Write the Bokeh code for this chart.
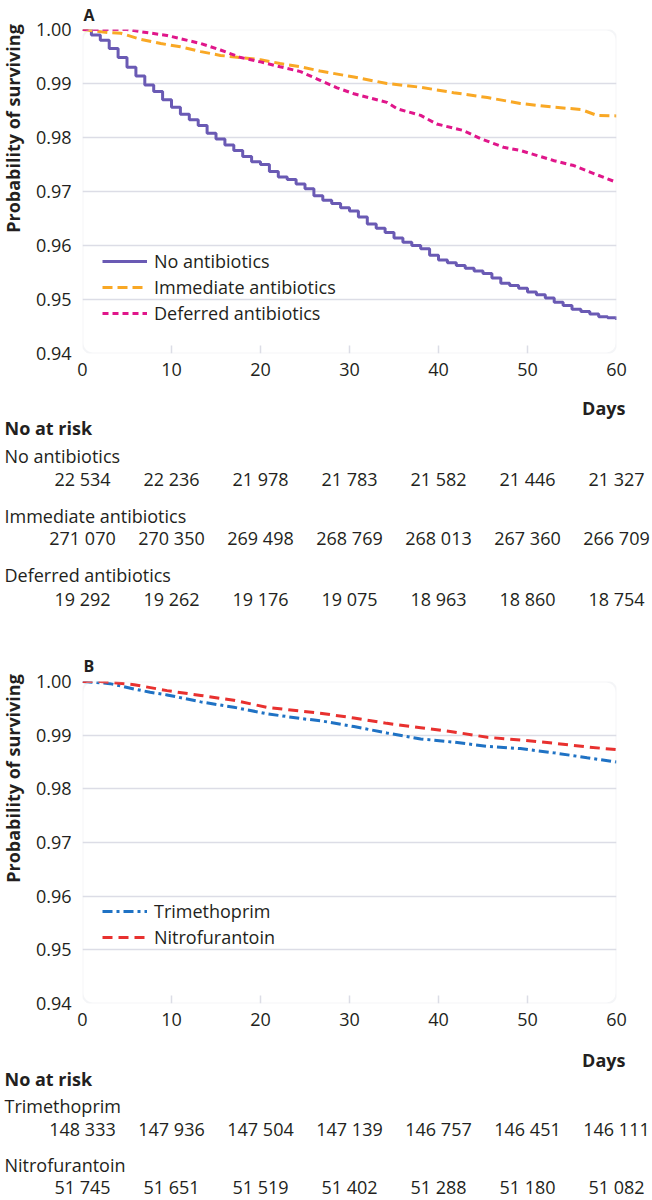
from math import pi
from bokeh.plotting import figure
from bokeh.models import (Range1d, FixedTicker, BoxAnnotation, Legend, Title,
                          LegendItem, PrintfTickFormatter)
from bokeh.layouts import column, row
from bokeh.embed import file_html
from bokeh.resources import INLINE
from bokeh.core.properties import value

FONT = "Open Sans"
INK = "#231f20"
GRID = "#dcdde6"
PURPLE = "#6a5ab4"
ORANGE = "#f9a825"
MAGENTA = "#e0168a"
BLUE = "#1f72c4"
RED = "#e8312f"

# ---------------- data ----------------
# Panel A
no_abx_days = list(range(61))
no_abx_surv = [1.0000, 0.9990, 0.9980, 0.9965, 0.9948, 0.9930, 0.9914, 0.9897, 0.9885, 0.9870,
               0.9856, 0.9843, 0.9833, 0.9822, 0.9808, 0.9797, 0.9786, 0.9776, 0.9765, 0.9755,
               0.9750, 0.9737, 0.9727, 0.9722, 0.9714, 0.9705, 0.9692, 0.9684, 0.9678, 0.9670,
               0.9664, 0.9653, 0.9640, 0.9632, 0.9624, 0.9614, 0.9606, 0.9600, 0.9594, 0.9582,
               0.9573, 0.9568, 0.9563, 0.9558, 0.9553, 0.9548, 0.9540, 0.9530, 0.9526, 0.9521,
               0.9514, 0.9509, 0.9503, 0.9495, 0.9489, 0.9482, 0.9478, 0.9473, 0.9468, 0.9466,
               0.9462]
imm_days = [0, 3.1, 4.3, 6.5, 8.8, 11.0, 13.3, 15.5, 17.8, 20.0, 22.2, 24.5, 26.7, 30.5,
            34.2, 38.0, 41.7, 45.5, 49.2, 53.0, 56.0, 57.8, 60]
imm_surv = [1.0, 0.9994, 0.9993, 0.9982, 0.9974, 0.9968, 0.9959, 0.9952, 0.9948, 0.9944,
            0.9937, 0.9931, 0.9923, 0.9912, 0.9900, 0.9893, 0.9883, 0.9874, 0.9863, 0.9856,
            0.9852, 0.9841, 0.9840]
def_days = [0, 5.0, 6.5, 9.5, 11.0, 13.3, 15.5, 17.8, 20.0, 22.2, 24.5, 26.7, 28.6, 30.5,
            34.2, 35.4, 38.0, 39.8, 42.8, 44.7, 47.3, 49.2, 53.0, 55.2, 56.7, 60]
def_surv = [1.0, 1.0, 0.9996, 0.9989, 0.9983, 0.9974, 0.9962, 0.9948, 0.9940, 0.9931,
            0.9922, 0.9906, 0.9892, 0.9881, 0.9865, 0.9853, 0.9841, 0.9825, 0.9813, 0.9798,
            0.9782, 0.9776, 0.9757, 0.9748, 0.9738, 0.9717]

# Panel B
tri_days = [0, 3.1, 5.8, 7.6, 9.5, 13.3, 17.0, 20.7, 24.5, 26.7, 30.5, 34.2, 38.0, 41.7,
            45.5, 49.2, 53.0, 56.7, 60]
tri_surv = [1.0, 0.9996, 0.9986, 0.9980, 0.9975, 0.9962, 0.9952, 0.9940, 0.9931, 0.9927,
            0.9916, 0.9904, 0.9893, 0.9887, 0.9879, 0.9875, 0.9867, 0.9858, 0.9850]
nit_days = [0, 2.0, 5.8, 9.5, 13.3, 17.0, 20.7, 24.5, 26.7, 30.5, 34.2, 38.0, 41.7, 45.5,
            49.2, 53.0, 56.7, 60]
nit_surv = [1.0, 1.0, 0.9994, 0.9983, 0.9974, 0.9965, 0.9952, 0.9945, 0.9941, 0.9932,
            0.9922, 0.9914, 0.9906, 0.9896, 0.9891, 0.9885, 0.9878, 0.9873]

# Axes
x_ticks = [0, 10, 20, 30, 40, 50, 60]
inner_ticks = [10, 20, 30, 40, 50]
y_ticks = [0.94, 0.95, 0.96, 0.97, 0.98, 0.99, 1.00]

# Numbers at risk
risk_days = [0, 10, 20, 30, 40, 50, 60]
risk_no_abx = [22534, 22236, 21978, 21783, 21582, 21446, 21327]
risk_imm = [271070, 270350, 269498, 268769, 268013, 267360, 266709]
risk_def = [19292, 19262, 19176, 19075, 18963, 18860, 18754]
risk_tri = [148333, 147936, 147504, 147139, 146757, 146451, 146111]
risk_nit = [51745, 51651, 51519, 51402, 51288, 51180, 51082]

labels_a = ["No antibiotics", "Immediate antibiotics", "Deferred antibiotics"]
labels_b = ["Trimethoprim", "Nitrofurantoin"]
y_title = "Probability of surviving"

# ---------------- layout ----------------
W = 652
LW = 26                      # width of the strip holding the rotated y title
BL, BR, BB = 82 - LW, 36, 35
PPD = (W - LW - BL - BR) / 60.0  # pixels per day


def fmt(n):
    return f"{n:,}".replace(",", " ")


def make_ylabel(height, yc):
    f = figure(width=LW, height=height, x_range=Range1d(0, LW), y_range=Range1d(height, 0),
               output_backend="svg", toolbar_location=None, frame_align=False,
               x_axis_location=None, y_axis_location=None,
               min_border_left=0, min_border_right=0, min_border_top=0, min_border_bottom=0)
    f.outline_line_color = None
    f.grid.visible = False
    f.text(x=[12], y=[yc], text=[y_title], angle=pi / 2, text_align="center",
           text_baseline="middle", text_font=value(FONT), text_font_style="bold",
           text_font_size="18px", text_color=INK)
    return f


def make_plot(height, top, tag, series, legend_y, title_standoff):
    frame_h = height - top - BB
    ppu = frame_h / 0.06
    p = figure(width=W - LW, height=height, x_range=Range1d(0, 60), y_range=Range1d(0.94, 1.0),
               output_backend="svg", toolbar_location=None, frame_align=False,
               min_border_left=BL, min_border_right=BR, min_border_top=top, min_border_bottom=BB)
    p.outline_line_color = None
    p.xgrid.visible = False
    p.ygrid.ticker = FixedTicker(ticks=y_ticks)
    p.ygrid.grid_line_color = GRID
    p.ygrid.grid_line_width = 1.5

    p.xaxis.ticker = FixedTicker(ticks=x_ticks)
    p.yaxis.ticker = FixedTicker(ticks=y_ticks)
    p.yaxis.formatter = PrintfTickFormatter(format="%.2f")
    for ax in (p.xaxis[0], p.yaxis[0]):
        ax.axis_line_color = None
        ax.major_tick_line_color = None
        ax.minor_tick_line_color = None
        ax.major_label_text_font = FONT
        ax.major_label_text_font_size = "18px"
        ax.major_label_text_color = INK
    p.xaxis.major_label_standoff = 3
    p.yaxis.major_label_standoff = 5

    p.add_layout(BoxAnnotation(left=0, right=60, bottom=0.94, top=1.0, fill_alpha=0,
                               line_color=GRID, line_width=2, border_radius=10))
    p.segment(x0=inner_ticks, y0=[0.94] * len(inner_ticks), x1=inner_ticks,
              y1=[0.94 + 8 / ppu] * len(inner_ticks), line_color=GRID, line_width=1.5)

    items = []
    for kind, xs, ys, color, dash, lab in series:
        if kind == "step":
            r = p.step(xs, ys, mode="after", line_color=color, line_width=3)
        else:
            r = p.line(xs, ys, line_color=color, line_width=3, line_dash=dash)
        items.append(LegendItem(label=lab, renderers=[r]))

    leg = Legend(items=items, location=(20, legend_y), background_fill_alpha=0,
                 border_line_color=None, padding=0, margin=0, spacing=2,
                 glyph_width=45, glyph_height=20, label_height=20, label_standoff=7,
                 label_text_font=FONT, label_text_font_size="18px", label_text_color=INK)
    p.add_layout(leg)

    p.add_layout(Title(text=tag, align="left", offset=1, standoff=title_standoff,
                       vertical_align="top", text_font=FONT,
                       text_font_style="bold", text_font_size="16px", text_color=INK),
                 "above")
    return p


def make_table(height, names, risks, ys):
    x0 = -(LW + BL) / PPD
    t = figure(width=W, height=height, x_range=Range1d(x0, 60 + BR / PPD),
               y_range=Range1d(height, 0), output_backend="svg", toolbar_location=None,
               frame_align=False, x_axis_location=None, y_axis_location=None,
               min_border_left=0, min_border_right=0, min_border_top=0, min_border_bottom=0)
    t.outline_line_color = None
    t.grid.visible = False
    days_y, nar_y, row_ys = ys
    t.text(x=[60 + 9 / PPD], y=[days_y], text=["Days"], text_align="right",
           text_baseline="middle", text_font=value(FONT), text_font_style="bold",
           text_font_size="18px", text_color=INK)
    t.text(x=[x0 + 4 / PPD], y=[nar_y], text=["No at risk"], text_align="left",
           text_baseline="middle", text_font=value(FONT), text_font_style="bold",
           text_font_size="18px", text_color=INK)
    for name, risk, (ly, ny) in zip(names, risks, row_ys):
        t.text(x=[x0 + 4 / PPD], y=[ly], text=[name], text_align="left", text_baseline="middle",
               text_font=value(FONT), text_font_size="18px", text_color=INK)
        t.text(x=risk_days, y=[ny] * len(risk_days), text=[fmt(v) for v in risk],
               text_align="center", text_baseline="middle",
               text_font=value(FONT), text_font_size="18px", text_color=INK)
    return t


series_a = [
    ("step", no_abx_days, no_abx_surv, PURPLE, None, labels_a[0]),
    ("line", imm_days, imm_surv, ORANGE, "10 5", labels_a[1]),
    ("line", def_days, def_surv, MAGENTA, "6 4", labels_a[2]),
]
series_b = [
    ("line", tri_days, tri_surv, BLUE, "10 4 3 4", labels_b[0]),
    ("line", nit_days, nit_surv, RED, "10 6", labels_b[1]),
]

HA, HTA, HB, HTB = 388, 262, 388, 162
figA = make_plot(HA, 29, "A", series_a, 28, 4)
lblA = make_ylabel(HA, 128)
tabA = make_table(HTA, labels_a, [risk_no_abx, risk_imm, risk_def],
                  (19, 39, [(67, 90), (127, 149), (186, 210)]))
figB = make_plot(HB, 31, "B", series_b, 54, 6)
lblB = make_ylabel(HB, 128)
tabB = make_table(HTB, labels_b, [risk_tri, risk_nit],
                  (21, 40, [(67, 90), (126, 148)]))

layout = column(row(lblA, figA, spacing=0), tabA, row(lblB, figB, spacing=0), tabB, spacing=0)
open("out.html", "w").write(file_html(layout, INLINE))
